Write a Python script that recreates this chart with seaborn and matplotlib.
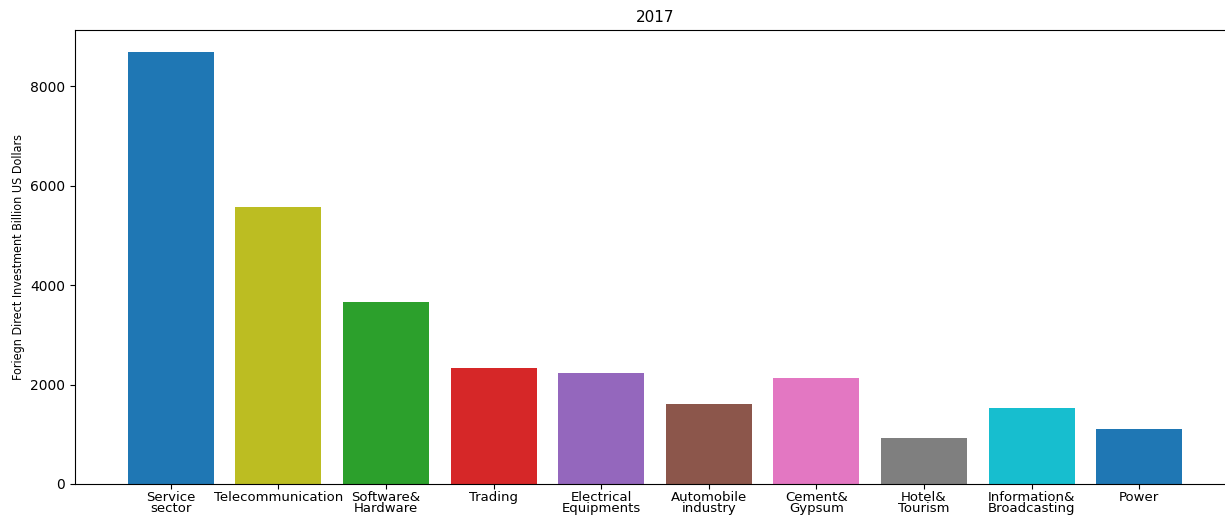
import matplotlib
matplotlib.use("Agg")
import matplotlib.pyplot as plt
import seaborn as sns
import pandas as pd

sectors = ["Service\nsector", "Telecommunication", "Software&\nHardware", "Trading",
           "Electrical\nEquipments", "Automobile\nindustry", "Cement&\nGypsum",
           "Hotel&\nTourism", "Information&\nBroadcasting", "Power"]
fdi_2017 = [8700, 5570, 3660, 2330, 2230, 1610, 2130, 925, 1530, 1105]
bar_colors = ["#1f77b4", "#bcbd22", "#2ca02c", "#d62728", "#9467bd",
              "#8c564b", "#e377c2", "#7f7f7f", "#17becf", "#1f77b4"]

df = pd.DataFrame({"Sector": sectors, "FDI": fdi_2017})

fig = plt.figure(figsize=(12.25, 5.15), dpi=100)
ax = fig.add_axes([0.0612, 0.0602, 0.947, 0.8816])
sns.barplot(data=df, x="Sector", y="FDI", hue="Sector", palette=bar_colors,
            saturation=1, width=0.8, legend=False, ax=ax)
ax.set_xlim(-0.89, len(sectors) - 1 + 0.89)
ax.set_ylim(0, max(fdi_2017) * 1.05)
ax.set_xlabel("")
ax.set_ylabel("Foriegn Direct Investment Billion US Dollars", fontsize=9,
              family="DejaVu Sans", fontstretch="condensed")
ax.set_title("2017", fontsize=11)
ax.tick_params(axis="y", labelsize=10)
ax.tick_params(axis="x", labelsize=9.5, pad=1.5)
for lbl in ax.get_xticklabels():
    lbl.set_linespacing(0.85)
fig.savefig("out.png", dpi=100)
